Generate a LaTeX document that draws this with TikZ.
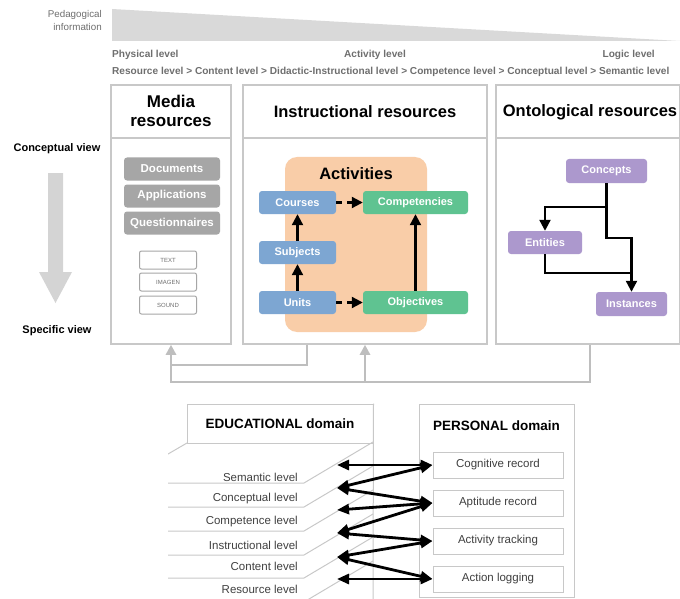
\documentclass[tikz,border=0pt]{standalone}
\usepackage{fontspec}
\setmainfont{Liberation Sans}
\usetikzlibrary{arrows.meta}
\definecolor{boxgray}{RGB}{200,200,200}
\definecolor{btngray}{RGB}{166,166,166}
\definecolor{bluefill}{RGB}{125,166,210}
\definecolor{greenfill}{RGB}{95,195,145}
\definecolor{orangefill}{RGB}{249,205,168}
\definecolor{purplefill}{RGB}{172,152,205}
\definecolor{wedgegray}{RGB}{217,217,217}
\definecolor{headtext}{RGB}{110,110,110}
\definecolor{conngray}{RGB}{190,190,190}
\definecolor{arrowgray}{RGB}{212,212,212}
\definecolor{lvltext}{RGB}{64,64,64}
\begin{document}
\begin{tikzpicture}[x=1pt,y=-1pt,
  panel/.style={draw=boxgray, line width=1.5pt, inner sep=0pt, fill=white},
  sepline/.style={draw=boxgray, line width=1.5pt},
  hdr/.style={text=headtext, font=\bfseries\fontsize{10.1}{11}\selectfont, inner sep=0pt},
  ttl/.style={font=\bfseries\fontsize{16.5}{19}\selectfont, inner sep=0pt},
  btn/.style={rounded corners=3pt, text=white, font=\bfseries\fontsize{11}{13}\selectfont, minimum height=23pt, inner sep=0pt},
  gbtn/.style={btn, fill=btngray, minimum width=96pt, font=\bfseries\fontsize{11.5}{13}\selectfont},
  sbox/.style={draw=btngray, line width=1pt, rounded corners=2pt, minimum width=57pt, minimum height=18pt, inner sep=0pt, text=headtext, font=\fontsize{6}{7}\selectfont},
  arr/.style={line width=2.2pt, -{Triangle[length=11pt,width=11pt]}},
  oline/.style={line width=2pt},
  gline/.style={draw=conngray, line width=2.5pt},
  garrow/.style={draw=conngray, line width=2.5pt, -{Triangle[length=10pt,width=10pt]}},
  plate/.style={draw=boxgray, line width=1pt},
  lvl/.style={anchor=east, text=lvltext, font=\fontsize{11.5}{13}\selectfont, inner sep=0pt},
  pbox/.style={draw=boxgray, line width=1pt, fill=white, minimum width=130pt, minimum height=26pt, inner sep=0pt, text=lvltext, font=\fontsize{11.5}{13}\selectfont},
  darr/.style={line width=2.8pt, {Triangle[length=12pt,width=10pt]}-{Triangle[length=12pt,width=10pt]}}
]
\useasboundingbox (0,0) rectangle (680,599);

% ---------- header ----------
\fill[wedgegray] (112,9) -- (680,41) -- (112,41) -- cycle;
\node[anchor=east, align=right, text=headtext, font=\fontsize{9.8}{13}\selectfont, inner sep=0pt] (peda) at (102,20.5) {Pedagogical\\information};
\node[hdr, anchor=west] (phys) at (112,55) {Physical level};
\node[hdr] (actl) at (375,55) {Activity level};
\node[hdr, anchor=east] (logic) at (655,55) {Logic level};
\node[hdr, anchor=west] (levels) at (112,72) {Resource level > Content level > Didactic-Instructional level > Competence level > Conceptual level > Semantic level};

% ---------- left side ----------
\node[font=\bfseries\fontsize{11}{13}\selectfont, inner sep=0pt] (cview) at (57,149) {Conceptual view};
\fill[arrowgray] (48,173) -- (63,173) -- (63,272) -- (72,272) -- (55.5,303) -- (39,272) -- (48,272) -- cycle;
\node[font=\bfseries\fontsize{11}{13}\selectfont, inner sep=0pt] (sview) at (57,331) {Specific view};

% ---------- panels ----------
\node[panel, minimum width=120pt, minimum height=259pt] (media) at (171,214.5) {};
\node[panel, minimum width=244pt, minimum height=259pt] (instr) at (365,214.5) {};
\node[panel, minimum width=184pt, minimum height=259pt] (onto) at (588,214.5) {};
\draw[sepline] (media.west |- 0,138) -- (media.east |- 0,138);
\draw[sepline] (instr.west |- 0,138) -- (instr.east |- 0,138);
\draw[sepline] (onto.west |- 0,138) -- (onto.east |- 0,138);

\node[ttl, font=\bfseries\fontsize{17}{19.5}\selectfont, align=center] (mediat) at (171,111) {Media\\resources};
\node[ttl] (instrt) at (365,112) {Instructional resources};
\node[ttl] (ontot) at (590,112) {Ontological resources};

% media contents
\node[gbtn] (docs) at (172,169) {Documents};
\node[gbtn] (apps) at (172,196) {Applications};
\node[gbtn] (quest) at (172,223) {Questionnaires};
\node[sbox] (txt) at (168,260) {TEXT};
\node[sbox] (img) at (168,282) {IMAGEN};
\node[sbox] (snd) at (168,305) {SOUND};

% instructional contents
\node[fill=orangefill, rounded corners=12pt, minimum width=142pt, minimum height=175pt, inner sep=0pt] (actbox) at (356,244.5) {};
\node[ttl] (actt) at (356,174) {Activities};
\node[btn, fill=bluefill, minimum width=77pt] (courses) at (297.5,202.5) {Courses};
\node[btn, fill=greenfill, minimum width=105pt] (comp) at (415.5,202.5) {Competencies};
\node[btn, fill=bluefill, minimum width=77pt] (subj) at (297.5,252.5) {Subjects};
\node[btn, fill=bluefill, minimum width=77pt] (units) at (297.5,302.5) {Units};
\node[btn, fill=greenfill, minimum width=105pt] (obj) at (415.5,302.5) {Objectives};
\draw[arr] (units) -- (subj);
\draw[arr] (subj) -- (courses);
\draw[arr] (obj) -- (comp);
\draw[arr, dash pattern=on 6pt off 5pt] (courses) -- (comp);
\draw[arr, dash pattern=on 6pt off 5pt] (units) -- (obj);

% ontological contents
\node[btn, fill=purplefill, minimum width=81pt, minimum height=24pt] (concepts) at (606.5,171) {Concepts};
\node[btn, fill=purplefill, minimum width=74pt] (entities) at (545,242.5) {Entities};
\node[btn, fill=purplefill, minimum width=71pt, minimum height=24pt] (instances) at (631.5,304) {Instances};
\coordinate (o1) at (606.5,207);
\coordinate (o2) at (606.5,238);
\coordinate (o3) at (631.5,273);
\draw[arr] (concepts.south) -- (o1) -| (entities.north);
\draw[arr] (o1) -- (o2) -| (instances.north);
\draw[oline] (entities.south) |- (o3);

% ---------- gray connectors ----------
\coordinate (c1) at (171,365);
\coordinate (c2) at (171,382);
\draw[gline] ([xshift=-58pt]instr.south) |- (c1) -- (c2) -| ([xshift=2pt]onto.south);
\draw[garrow] (c1) -- (media.south);
\draw[garrow] (c2 -| instr.south) -- (instr.south);

% ---------- educational domain ----------
\begin{scope}
\clip (168,400) rectangle (380,599);
\draw[plate] (187,443) -- (118,483);
\foreach \yb in {483,507,531,555,578,602} {
  \draw[plate] (118,\yb) -- (304,\yb) -- (373,\yb-41);
}
\end{scope}
\node[draw=boxgray, line width=1pt, minimum width=186pt, minimum height=39pt, inner sep=0pt, font=\bfseries\fontsize{13.5}{16}\selectfont] (edu) at (280,423.5) {EDUCATIONAL domain};
\draw[plate] (edu.north east) -- (373,599);

\node[lvl] (semantic) at (298,477) {Semantic level};
\node[lvl] (conceptual) at (298,499) {Conceptual level};
\node[lvl] (competence) at (298,522) {Competence level};
\node[lvl] (instructional) at (298,545) {Instructional level};
\node[lvl] (content) at (298,566) {Content level};
\node[lvl] (resource) at (298,589) {Resource level};

\coordinate (lsem) at (337,465);
\coordinate (lcon) at (337,488);
\coordinate (lcomp) at (337,510);
\coordinate (linstr) at (337,533);
\coordinate (lcont) at (337,557);
\coordinate (lres) at (337,579);

% ---------- personal domain ----------
\node[draw=boxgray, line width=1pt, minimum width=155pt, minimum height=193pt, inner sep=0pt] (pers) at (496.5,500.5) {};
\node[font=\bfseries\fontsize{13.5}{16}\selectfont, inner sep=0pt] (perst) at (496.5,426) {PERSONAL domain};
\node[pbox] (cog) at (498,465) {Cognitive record};
\node[pbox] (apt) at (498,503) {Aptitude record};
\node[pbox] (act) at (498,541) {Activity tracking};
\node[pbox] (log) at (498,579) {Action logging};

\draw[darr] (lsem) -- (cog.west);
\draw[darr] (lcon) -- (cog.west);
\draw[darr] (lcon) -- (apt.west);
\draw[darr] (lcomp) -- (apt.west);
\draw[darr] (linstr) -- (apt.west);
\draw[darr] (linstr) -- (act.west);
\draw[darr] (lcont) -- (act.west);
\draw[darr] (lcont) -- (log.west);
\draw[darr] (lres) -- (log.west);
\end{tikzpicture}
\end{document}
